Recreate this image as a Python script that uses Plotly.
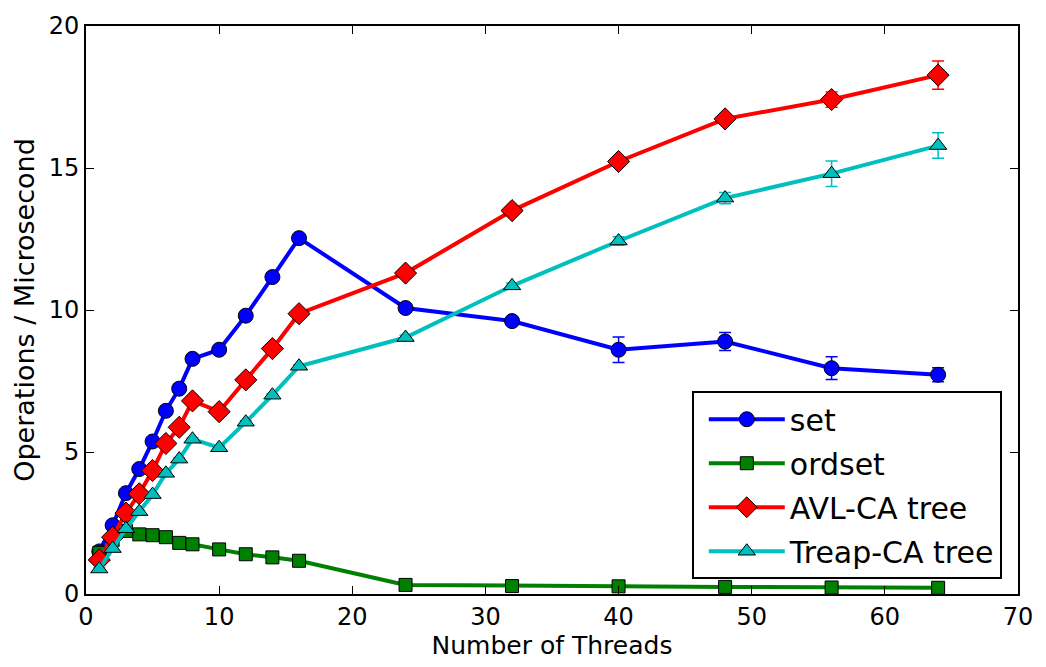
import plotly.graph_objects as go

threads = [1, 2, 3, 4, 5, 6, 7, 8, 10, 12, 14, 16, 24, 32, 40, 48, 56, 64]

set_vals = [1.5, 2.42, 3.55, 4.4, 5.37, 6.45, 7.23, 8.28, 8.6, 9.8, 11.16, 12.53, 10.07, 9.61, 8.6, 8.89, 7.95, 7.72]
set_err = [0.05, 0.05, 0.05, 0.05, 0.05, 0.05, 0.05, 0.05, 0.05, 0.05, 0.05, 0.05, 0.1, 0.12, 0.45, 0.32, 0.4, 0.25]

ordset_vals = [1.45, 1.9, 2.22, 2.1, 2.07, 2.0, 1.8, 1.75, 1.57, 1.4, 1.29, 1.17, 0.32, 0.28, 0.27, 0.25, 0.23, 0.22]
ordset_err = [0.03] * 18

avl_vals = [1.2, 2.0, 2.85, 3.53, 4.35, 5.3, 5.87, 6.8, 6.42, 7.54, 8.64, 9.87, 11.3, 13.5, 15.23, 16.73, 17.41, 18.27]
avl_err = [0.05, 0.05, 0.05, 0.05, 0.05, 0.05, 0.05, 0.05, 0.05, 0.05, 0.05, 0.05, 0.1, 0.1, 0.1, 0.1, 0.27, 0.5]

treap_vals = [0.88, 1.6, 2.3, 2.9, 3.5, 4.25, 4.75, 5.45, 5.15, 6.05, 7.0, 8.02, 9.03, 10.85, 12.43, 13.94, 14.8, 15.79]
treap_err = [0.05, 0.05, 0.05, 0.05, 0.05, 0.05, 0.05, 0.05, 0.05, 0.05, 0.05, 0.05, 0.08, 0.1, 0.15, 0.2, 0.45, 0.45]

series = [
    ("set", set_vals, set_err, "#0000ff", "circle", 15),
    ("ordset", ordset_vals, ordset_err, "#008000", "square", 13),
    ("AVL-CA tree", avl_vals, avl_err, "#ff0000", "diamond", 17),
    ("Treap-CA tree", treap_vals, treap_err, "#00bfbf", "triangle-up", 15),
]

fig = go.Figure()
for name, vals, err, color, sym, size in series:
    fig.add_trace(go.Scatter(
        x=threads, y=vals, name=name, mode="lines+markers", legendgroup=name,
        line=dict(color=color, width=4),
        marker=dict(symbol=sym, size=size, color=color, line=dict(color="black", width=1)),
        error_y=dict(type="data", array=err, color=color, thickness=1.5, width=6, visible=True),
    ))

axis_common = dict(
    showline=True, linecolor="black", linewidth=2, mirror="ticks",
    ticks="inside", ticklen=8, tickwidth=1, tickcolor="black",
    showgrid=False, zeroline=False,
    tickfont=dict(family="DejaVu Sans", size=24, color="black"),
)

fig.update_layout(
    width=1046, height=667,
    margin=dict(l=86, r=28, t=24, b=73),
    paper_bgcolor="white", plot_bgcolor="white",
    font=dict(family="DejaVu Sans", color="black"),
    xaxis=dict(range=[0, 70], tickvals=[0, 10, 20, 30, 40, 50, 60, 70],
               title=dict(text="Number of Threads", font=dict(size=25), standoff=0), **axis_common),
    yaxis=dict(range=[0, 20], tickvals=[0, 5, 10, 15, 20],
               title=dict(text="Operations / Microsecond", font=dict(size=27), standoff=6), **axis_common),
    legend=dict(x=0.65, y=0.026, xanchor="left", yanchor="bottom",
                bgcolor="white", bordercolor="black", borderwidth=2,
                font=dict(size=30, family="DejaVu Sans"), itemwidth=76, indentation=10,
                traceorder="grouped", tracegroupgap=2),
    showlegend=True,
)

fig.write_html("out.html")
